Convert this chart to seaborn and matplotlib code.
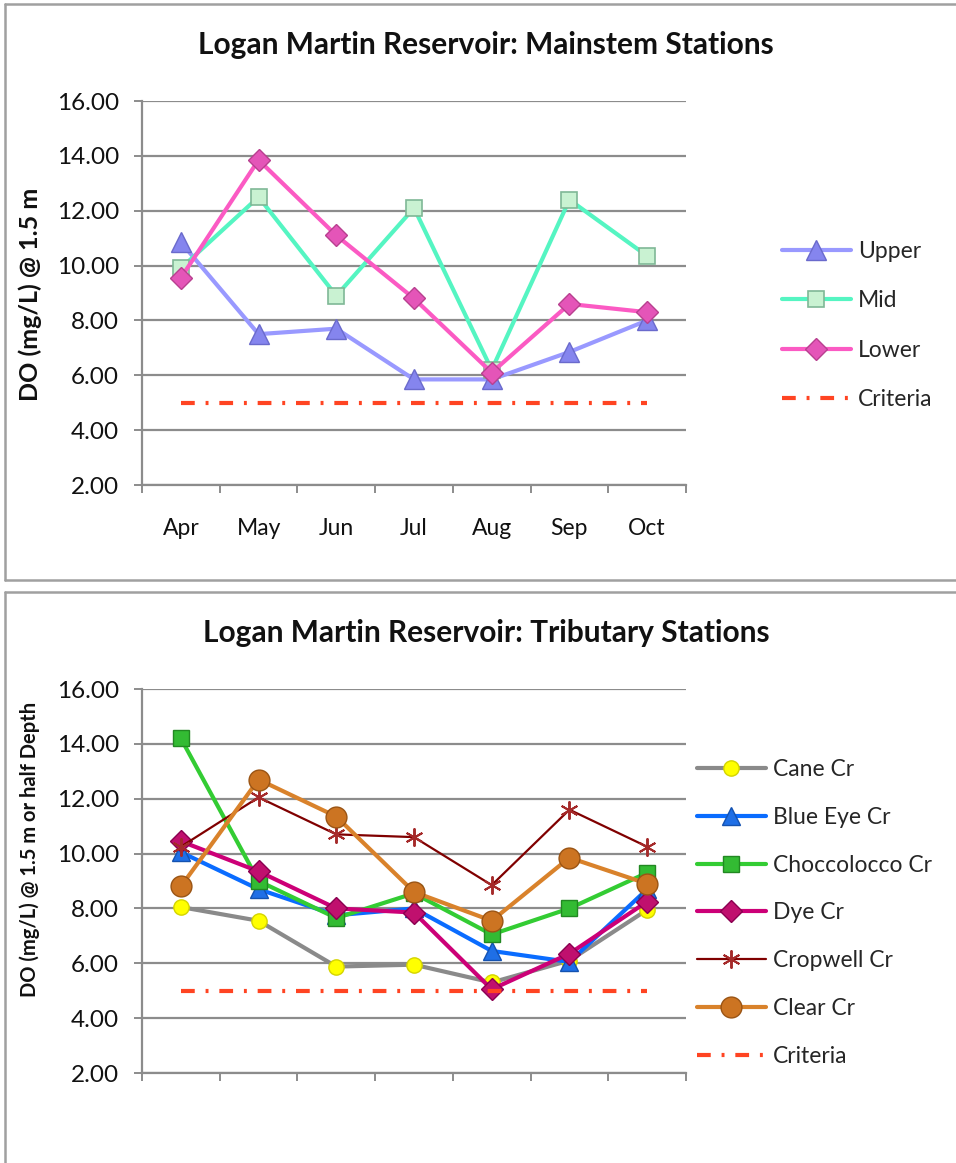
import matplotlib
matplotlib.use("Agg")
import matplotlib.pyplot as plt
import seaborn as sns
import numpy as np
from matplotlib.lines import Line2D

# ---------------- data ----------------
months = ["Apr", "May", "Jun", "Jul", "Aug", "Sep", "Oct"]
criteria_value = 5.0

upper = [10.85, 7.50, 7.70, 5.85, 5.85, 6.85, 8.00]
mid = [9.90, 12.50, 8.90, 12.10, 6.20, 12.40, 10.35]
lower = [9.55, 13.85, 11.10, 8.80, 6.10, 8.60, 8.30]

cane = [8.05, 7.55, 5.88, 5.95, 5.30, 6.10, 7.95]
blue_eye = [10.05, 8.70, 7.75, 8.00, 6.45, 6.05, 8.70]
choccolocco = [14.20, 9.00, 7.65, 8.55, 7.05, 8.00, 9.30]
dye = [10.45, 9.35, 8.00, 7.85, 5.05, 6.35, 8.25]
cropwell = [10.25, 12.05, 10.70, 10.60, 8.85, 11.60, 10.25]
clear = [8.80, 12.70, 11.35, 8.60, 7.55, 9.85, 8.90]

yticks = [2, 4, 6, 8, 10, 12, 14, 16]

# ---------------- style ----------------
sns.set_theme(style="white")
plt.rcParams['font.family'] = ['Lato', 'DejaVu Sans']

W, H = 956, 1163
fig = plt.figure(figsize=(W / 100, H / 100), dpi=100)

GRID = "#8c8c8c"
CRIT = "#ff4422"
crit_dash = (0, (3.3, 2.6, 0.7, 2.6))

def fx(px):
    return px / W

def fy(py):
    return 1 - py / H

# box borders
for seg in [((5, 4), (W + 5, 4)), ((5, 4), (5, 580)), ((5, 580), (W + 5, 580)),
            ((5, 592), (W + 5, 592)), ((5, 592), (5, H + 5))]:
    (x0, y0), (x1, y1) = seg
    fig.add_artist(Line2D([fx(x0), fx(x1)], [fy(y0), fy(y1)], color="#a0a0a0",
                          lw=1.8, transform=fig.transFigure))

x = np.arange(len(months))


def style_axes(ax, show_xlabels):
    ax.set_xlim(-0.5, len(months) - 0.5)
    ax.set_ylim(2, 16)
    ax.set_yticks(yticks)
    ax.set_yticklabels([f"{v:.2f}" for v in yticks], fontsize=17.5, color="#111111")
    ax.yaxis.grid(True, color=GRID, lw=1.6)
    ax.xaxis.grid(False)
    for s in ["top", "right"]:
        ax.spines[s].set_visible(False)
    for s in ["left", "bottom"]:
        ax.spines[s].set_color(GRID)
        ax.spines[s].set_linewidth(1.6)
    ax.tick_params(axis="y", which="major", left=True, length=6, width=1.4,
                   color=GRID, pad=10.5)
    ax.set_xticks(x)
    if show_xlabels:
        ax.set_xticklabels(months, fontsize=16.5, color="#111111")
    else:
        ax.set_xticklabels([])
    ax.tick_params(axis="x", which="major", bottom=False, length=0, pad=24)
    ax.set_xticks(np.arange(-0.5, len(months)), minor=True)
    ax.tick_params(axis="x", which="minor", bottom=True, length=6, width=1.4,
                   color=GRID)
    ax.set_xlabel("")
    ax.set_ylabel("")
    ax.set_axisbelow(True)


# ---------------- top chart ----------------
ax1 = fig.add_axes([fx(142), fy(485), fx(686) - fx(142), fy(101) - fy(485)])
sns.lineplot(x=x, y=upper, ax=ax1, color="#9999ff", lw=3, marker="^",
             markersize=14, markerfacecolor="#8585ee", markeredgecolor="#6a6acc",
             markeredgewidth=1, label="Upper")
sns.lineplot(x=x, y=mid, ax=ax1, color="#55f5c2", lw=3, marker="s",
             markersize=11, markerfacecolor="#c9f2d2", markeredgecolor="#7fb896",
             markeredgewidth=1.2, label="Mid")
sns.lineplot(x=x, y=lower, ax=ax1, color="#fb5ac3", lw=3, marker="D",
             markersize=11, markerfacecolor="#e455b8", markeredgecolor="#b8408f",
             markeredgewidth=1, label="Lower")
ax1.plot(x, [criteria_value] * len(x), color=CRIT, lw=3, linestyle=crit_dash,
         label="Criteria")
style_axes(ax1, True)
ax1.legend(loc="upper left", bbox_to_anchor=(fx(782), fy(241)),
           bbox_transform=fig.transFigure, frameon=False, fontsize=16.5,
           handlelength=3.0, handletextpad=0.3, labelspacing=1.24,
           borderaxespad=0, borderpad=0)

fig.text(fx(486), fy(45), "Logan Martin Reservoir: Mainstem Stations",
         ha="center", va="center", fontsize=21.5, fontweight="bold", color="#111111")
fig.text(fx(30), fy(294), "DO (mg/L) @ 1.5 m", rotation=90, ha="center",
         va="center", fontsize=18, fontweight="bold", color="#111111")

# ---------------- bottom chart ----------------
ax2 = fig.add_axes([fx(142), fy(1073), fx(686) - fx(142), fy(689) - fy(1073)])
sns.lineplot(x=x, y=cane, ax=ax2, color="#8a8a8a", lw=3, marker="o",
             markersize=11, markerfacecolor="#ffff00", markeredgecolor="#d4d400",
             markeredgewidth=1, label="Cane Cr")
sns.lineplot(x=x, y=blue_eye, ax=ax2, color="#0a6cff", lw=3, marker="^",
             markersize=13, markerfacecolor="#1f6fe6", markeredgecolor="#1452b0",
             markeredgewidth=1, label="Blue Eye Cr")
sns.lineplot(x=x, y=choccolocco, ax=ax2, color="#33cc33", lw=3, marker="s",
             markersize=11, markerfacecolor="#33bb33", markeredgecolor="#228822",
             markeredgewidth=1, label="Choccolocco Cr")
sns.lineplot(x=x, y=dye, ax=ax2, color="#cc0077", lw=3, marker="D",
             markersize=11, markerfacecolor="#c0106e", markeredgecolor="#8a0050",
             markeredgewidth=1, label="Dye Cr")
sns.lineplot(x=x, y=cropwell, ax=ax2, color="#800000", lw=1.6, marker=(6, 2, 0),
             markersize=13, markerfacecolor="#a02020", markeredgecolor="#a52a2a",
             markeredgewidth=1.4, label="Cropwell Cr")
sns.lineplot(x=x, y=clear, ax=ax2, color="#d9822b", lw=3, marker="o",
             markersize=15, markerfacecolor="#cc7422", markeredgecolor="#9a5414",
             markeredgewidth=1, label="Clear Cr")
ax2.plot(x, [criteria_value] * len(x), color=CRIT, lw=3, linestyle=crit_dash,
         label="Criteria")
style_axes(ax2, False)
ax2.legend(loc="upper left", bbox_to_anchor=(fx(697), fy(759)),
           bbox_transform=fig.transFigure, frameon=False, fontsize=16.5,
           handlelength=3.0, handletextpad=0.3, labelspacing=1.17,
           borderaxespad=0, borderpad=0)

fig.text(fx(486), fy(633), "Logan Martin Reservoir: Tributary Stations",
         ha="center", va="center", fontsize=21.5, fontweight="bold", color="#111111")
fig.text(fx(30), fy(849), "DO (mg/L) @ 1.5 m or half Depth", rotation=90,
         ha="center", va="center", fontsize=14.5, fontweight="bold", color="#111111")

fig.savefig("out.png", dpi=100)
